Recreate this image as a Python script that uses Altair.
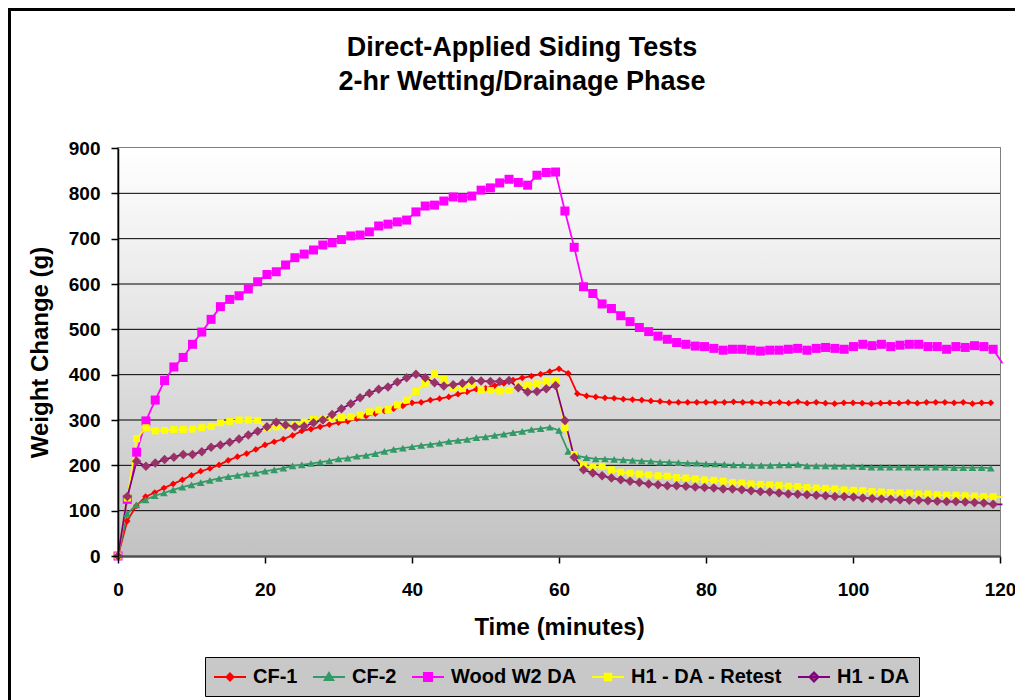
import altair as alt
import pandas as pd

# ---------------- data ----------------
SERIES = ["CF-1", "CF-2", "Wood W2 DA", "H1 - DA - Retest", "H1 - DA"]
INTERVAL_SEC = [75, 75, 76, 76, 76]   # logging interval of each test

CF1 = [0, 77, 111, 131, 140, 150, 159, 168, 178, 187, 193, 201, 211, 219, 226, 235, 245, 252, 258, 266, 276, 280, 285, 290, 294,
       297, 303, 309, 314, 320, 325, 331, 338, 339, 344, 347, 351, 357, 362, 368, 370, 376, 381, 388, 393, 397, 401,
       407, 413, 403, 358, 353, 351, 349, 348, 346, 345, 344, 342, 341, 339, 339, 339, 339, 339, 339, 339, 340, 339, 339, 338,
       338, 339, 337, 340, 337, 339, 337, 336, 338, 338, 337, 336, 337, 338, 337, 339, 337, 339, 339, 339, 338, 339, 336, 338, 338]
CF2 = [0, 93, 113, 124, 133, 139, 146, 152, 157, 162, 167, 171, 175, 178, 181, 183, 187, 190, 194, 199, 201, 204, 207,
       210, 214, 216, 220, 222, 226, 231, 235, 238, 241, 244, 246, 249, 253, 255, 257, 261, 263, 266, 269, 272, 275, 279, 281, 284,
       277, 231, 221, 217, 214, 214, 213, 212, 211, 210, 209, 207, 207, 206, 205, 205, 203, 203, 202, 201, 201, 200, 200, 200,
       201, 201, 202, 199, 199, 199, 198, 198, 198, 197, 196, 196, 196, 196, 196, 196, 196, 196, 196, 195, 195, 195, 195, 194]
WOOD = [0, 125, 229, 298, 344, 387, 417, 438, 467, 494, 522, 550, 566, 574, 589, 605, 621, 627, 642, 658, 666,
        675, 686, 691, 698, 706, 708, 715, 728, 732, 737, 741, 759, 772, 774, 783, 792, 790, 794, 807, 812, 823,
        831, 824, 818, 840, 846, 847, 761, 681, 594, 579, 556, 546, 530, 517, 504, 495, 485, 478, 471, 467, 463,
        462, 458, 454, 456, 456, 454, 452, 454, 454, 456, 458, 454, 458, 460, 458, 456, 462, 467, 464, 467, 462, 465,
        467, 467, 462, 462, 456, 462, 460, 464, 462, 456,
        425]
RETEST = [0, 128, 259, 283, 276, 277, 279, 279, 280, 283, 286, 294, 297, 300, 300, 299, 283, 285, 286, 290, 295, 301, 303,
          304, 305, 307, 311, 318, 322, 323, 333, 344, 363, 381, 402, 390, 371, 369, 379, 366, 365, 364, 365, 375, 376, 380, 385, 386,
          283, 224, 199, 196, 198, 190, 185, 183, 181, 179, 177, 176, 173, 172, 170, 168, 167, 165, 162, 161, 159, 158, 157, 156,
          154, 153, 151, 150, 149, 148, 146, 145, 144, 142, 141, 140, 139, 139, 137, 137, 135, 134, 134, 133, 132, 131, 131, 130]
H1DA = [0, 131, 209, 198, 205, 213, 218, 224, 224, 230, 240, 245, 251, 258, 267, 275, 285, 295, 289, 285, 286, 294, 300,
        312, 325, 336, 349, 359, 368, 373, 384, 393, 401, 393, 382, 375, 378, 381, 387, 386, 385, 385, 387, 371, 362, 363, 369, 376,
        299, 218, 190, 183, 177, 172, 168, 165, 162, 159, 157, 155, 155, 154, 152, 151, 150, 148, 148, 146, 144, 142, 141, 139,
        137, 136, 135, 134, 133, 131, 131, 130, 128, 127, 126, 125, 124, 123, 123, 122, 121, 120, 120, 119, 118, 117, 114, 114]
VALUES = [CF1, CF2, WOOD, RETEST, H1DA]

X_TICKS = [0, 20, 40, 60, 80, 100, 120]
Y_TICKS = [0, 100, 200, 300, 400, 500, 600, 700, 800, 900]
GRID_VALUES = [100, 200, 300, 400, 500, 600, 700, 800]

TITLE = ["Direct-Applied Siding Tests", "2-hr Wetting/Drainage Phase"]
X_TITLE = "Time (minutes)"
Y_TITLE = "Weight Change (g)"

# ---------------- styles ----------------
FONT = "Liberation Sans"
LINE_COLORS = ["#ff0000", "#339966", "#ff00ff", "#ffff00", "#800080"]
MARKER_COLORS = ["#ff0000", "#339966", "#ff00ff", "#ffff00", "#993366"]
MARKER_SHAPES = ["diamond", "triangle-up", "square", "square", "diamond"]
MARKER_SIZES = [45, 60, 81, 49, 90]
# legend symbol: a line with the series marker; unit = 10 px
LEGEND_MARKERS = [
    "M0,-0.35L0.35,0L0,0.35L-0.35,0Z",
    "M0,-0.4L0.42,0.3L-0.42,0.3Z",
    "M-0.4,-0.4H0.4V0.4H-0.4Z",
    "M-0.33,-0.33H0.33V0.33H-0.33Z",
    "M0,-0.45L0.45,0L0,0.45L-0.45,0Z",
]
LEGEND_PATHS = ["M-1.6,0H1.6" + m for m in LEGEND_MARKERS]

PLOT_W, PLOT_H = 882, 408

rows = []
for name, step, vals in zip(SERIES, INTERVAL_SEC, VALUES):
    for i, v in enumerate(vals):
        rows.append({"series": name, "t": i * step / 60.0, "value": v})
df = pd.DataFrame(rows)

XS = alt.Scale(domain=[0, 120], nice=False, zero=False)
YS = alt.Scale(domain=[0, 900], nice=False)

x_axis = alt.Axis(values=X_TICKS, title=X_TITLE, labelPadding=17, titlePadding=16,
                  labelFlush=False, labelOverlap=False, domainColor="#505050", domainWidth=2.5, zindex=1)
y_axis = alt.Axis(values=Y_TICKS, title=Y_TITLE, labelPadding=11, titlePadding=16,
                  labelOverlap=False, domainColor="black", domainWidth=1.5, zindex=1)

X_ENC = alt.X("t:Q", scale=XS, axis=x_axis)
Y_ENC = alt.Y("value:Q", scale=YS, axis=y_axis)

legend = alt.Legend(
    title=None, orient="none", legendX=87, legendY=509, direction="horizontal", columns=5,
    fillColor="#c8c8c8", strokeColor="black", padding=9, columnPadding=11,
    labelFont=FONT, labelFontSize=20, labelFontWeight="bold", labelColor="black", labelOffset=12,
    symbolSize=400, symbolOffset=5, symbolStrokeWidth=2, symbolOpacity=1,
)

frame = alt.Chart(pd.DataFrame({"k": [0]})).mark_rect(
    fillOpacity=0, stroke="black", strokeWidth=3
).encode(x=alt.value(-108.5), x2=alt.value(2000), y=alt.value(-138.5), y2=alt.value(2000))

bg = alt.Chart(pd.DataFrame({"k": [0]})).mark_rect(
    fill=alt.LinearGradient(
        gradient="linear",
        stops=[alt.GradientStop(offset=0, color="#ffffff"), alt.GradientStop(offset=1, color="#c2c2c2")],
        x1=0, x2=0, y1=0, y2=1,
    )
).encode(x=alt.value(0), x2=alt.value(PLOT_W), y=alt.value(0), y2=alt.value(PLOT_H))

grid = alt.Chart(pd.DataFrame({"value": GRID_VALUES})).mark_rule(
    color="black", strokeWidth=1
).encode(y=Y_ENC)

legend_layer = alt.Chart(df).transform_filter("false").mark_point(filled=True, opacity=1).encode(
    x=X_ENC,
    y=Y_ENC,
    fill=alt.Fill("series:N", scale=alt.Scale(domain=SERIES, range=MARKER_COLORS), legend=legend),
    stroke=alt.Stroke("series:N", scale=alt.Scale(domain=SERIES, range=LINE_COLORS), legend=legend),
    shape=alt.Shape("series:N", scale=alt.Scale(domain=SERIES, range=LEGEND_PATHS), legend=legend),
)

lines = alt.Chart(df).mark_line(strokeWidth=1.75).encode(
    x=X_ENC,
    y=Y_ENC,
    stroke=alt.Stroke("series:N", scale=alt.Scale(domain=SERIES, range=LINE_COLORS), legend=legend),
    order="t:Q",
)

point_layers = []
for name, col, shp, sz in zip(SERIES, MARKER_COLORS, MARKER_SHAPES, MARKER_SIZES):
    point_layers.append(
        alt.Chart(df).transform_filter(
            alt.FieldEqualPredicate(field="series", equal=name)
        ).transform_filter("datum.t <= 120").mark_point(
            filled=True, shape=shp, size=sz, color=col, opacity=1, strokeWidth=0
        ).encode(x=X_ENC, y=Y_ENC)
    )

chart = alt.layer(frame, bg, grid, legend_layer, lines, *point_layers).properties(
    width=PLOT_W, height=PLOT_H,
    autosize=alt.AutoSizeParams(type="none"),
    padding={"left": 110, "top": 140, "right": 15, "bottom": 150},
    title=alt.TitleParams(
        text=TITLE, font=FONT, fontSize=27, fontWeight="bold", color="black",
        anchor="middle", frame="group", dx=-37, offset=-88, lineHeight=34,
    ),
).configure(
    background="white",
).configure_view(
    stroke="#808080", strokeWidth=2,
).configure_axis(
    labelFont=FONT, labelFontSize=19, labelFontWeight="bold", labelColor="black",
    titleFont=FONT, titleFontSize=24, titleFontWeight="bold", titleColor="black",
    tickColor="black", tickSize=7, tickWidth=1.5, grid=False,
)

chart.save("out.html", embed_options={"renderer": "svg", "actions": False})
